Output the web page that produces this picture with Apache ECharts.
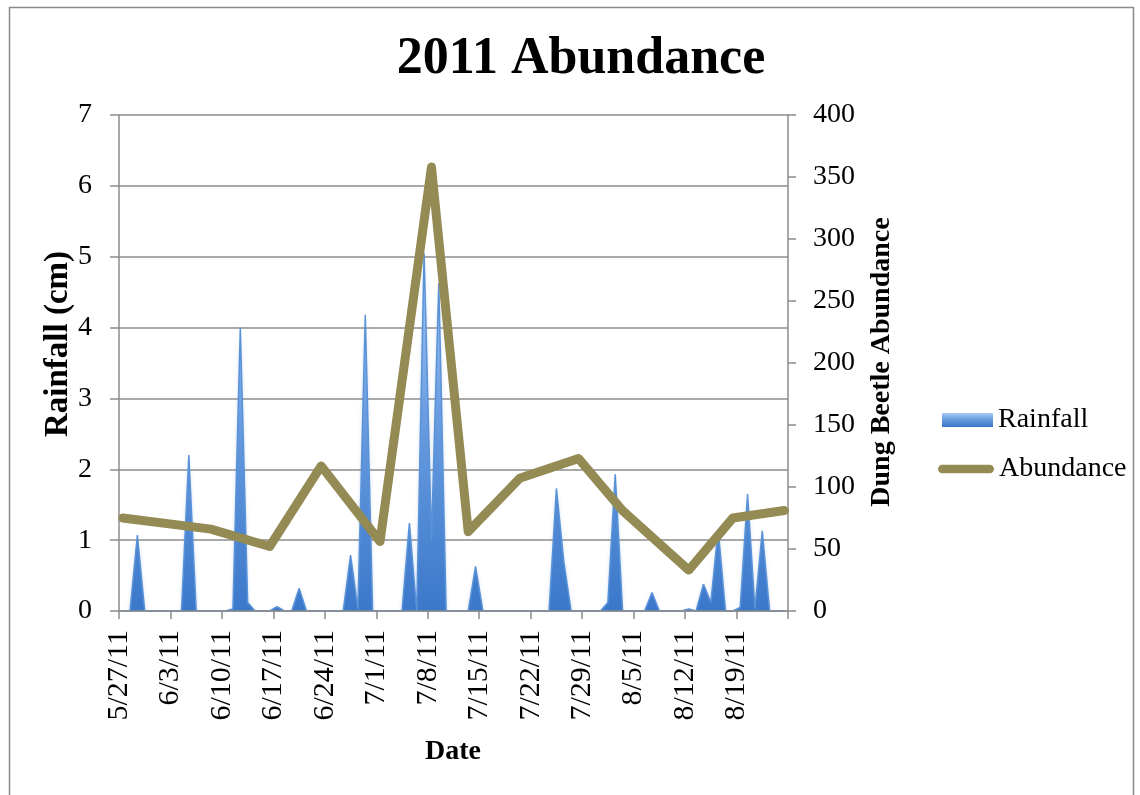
<!DOCTYPE html>
<html>
<head>
<meta charset="utf-8">
<title>2011 Abundance</title>
<script src="https://cdn.jsdelivr.net/npm/echarts@6/dist/echarts.min.js"></script>
<style>
  html, body { margin: 0; padding: 0; background: #ffffff; }
  #chart { width: 1140px; height: 795px; }
</style>
</head>
<body>
<div id="chart"></div>
<script>
// Daily sampling dates (one slot per day on the date axis)
const dates = [
  '5/27/11','5/28/11','5/29/11','5/30/11','5/31/11',
  '6/1/11','6/2/11','6/3/11','6/4/11','6/5/11','6/6/11','6/7/11','6/8/11','6/9/11','6/10/11',
  '6/11/11','6/12/11','6/13/11','6/14/11','6/15/11','6/16/11','6/17/11','6/18/11','6/19/11','6/20/11',
  '6/21/11','6/22/11','6/23/11','6/24/11','6/25/11','6/26/11','6/27/11','6/28/11','6/29/11','6/30/11',
  '7/1/11','7/2/11','7/3/11','7/4/11','7/5/11','7/6/11','7/7/11','7/8/11','7/9/11','7/10/11',
  '7/11/11','7/12/11','7/13/11','7/14/11','7/15/11','7/16/11','7/17/11','7/18/11','7/19/11','7/20/11',
  '7/21/11','7/22/11','7/23/11','7/24/11','7/25/11','7/26/11','7/27/11','7/28/11','7/29/11','7/30/11','7/31/11',
  '8/1/11','8/2/11','8/3/11','8/4/11','8/5/11','8/6/11','8/7/11','8/8/11','8/9/11','8/10/11',
  '8/11/11','8/12/11','8/13/11','8/14/11','8/15/11','8/16/11','8/17/11','8/18/11','8/19/11','8/20/11',
  '8/21/11','8/22/11','8/23/11','8/24/11','8/25/11'
];

// Daily rainfall (cm), one value per date above
const rainfall = [
  0, 0, 1.07, 0, 0,
  0, 0, 0, 0, 2.2, 0, 0, 0, 0, 0,
  0.03, 4.0, 0.12, 0, 0, 0, 0.06, 0, 0, 0.32,
  0, 0, 0, 0, 0, 0, 0.79, 0.03, 4.18, 0,
  0, 0, 0, 0, 1.24, 0, 5.05, 1.0, 4.63, 0,
  0, 0, 0, 0.63, 0, 0, 0, 0, 0, 0,
  0, 0, 0, 0, 1.73, 0.7, 0, 0, 0, 0, 0,
  0.12, 1.93, 0, 0, 0, 0, 0.26, 0, 0, 0,
  0, 0.03, 0, 0.38, 0.12, 1.15, 0, 0, 0.05, 1.65,
  0.03, 1.13, 0, 0, 0
];

// Dung beetle trap counts on collection dates
const abundanceDates = ['5/27/11','6/8/11','6/16/11','6/23/11','7/1/11','7/8/11','7/13/11',
                        '7/20/11','7/28/11','8/3/11','8/12/11','8/18/11','8/25/11'];
const abundanceValues = [75, 66, 52, 117, 56, 358, 64, 107, 123, 81, 33, 75, 81];

const serif = 'Liberation Serif';
const axisGrey = '#8c8c8c';

const rainFill = () => new echarts.graphic.LinearGradient(0, 0, 0, 1, [
  { offset: 0, color: '#a9cbf6' },
  { offset: 0.45, color: '#6a9de0' },
  { offset: 1, color: '#3b78ca' }
]);

// Each value sits in the middle of its day slot
const slot = i => i + 0.5;
const rainData = rainfall.map((v, i) => [slot(i), v]);
const abundanceData = abundanceDates.map((d, k) => [slot(dates.indexOf(d)), abundanceValues[k]]);

const chart = echarts.init(document.getElementById('chart'), null, { renderer: 'canvas' });

chart.setOption({
  animation: false,
  backgroundColor: '#ffffff',
  title: {
    text: '2011 Abundance',
    left: 581,
    top: 60,
    textAlign: 'center',
    textVerticalAlign: 'middle',
    padding: 0,
    textStyle: { fontFamily: serif, fontWeight: 'bold', fontSize: 52, color: '#000' }
  },
  grid: { left: 119, right: 352, top: 115, bottom: 184, containLabel: false },
  legend: [
    {
      data: [{ name: 'Rainfall', icon: 'rect', itemStyle: { color: rainFill(), borderWidth: 0 } }],
      left: 942, top: 406, orient: 'vertical', padding: 0,
      itemWidth: 51, itemHeight: 14, selectedMode: false,
      textStyle: { fontFamily: serif, fontSize: 28, color: '#000', lineHeight: 14 }
    },
    {
      data: [{
        name: 'Abundance',
        icon: 'path://M4.5,0L53.5,0A4.5,4.5,0,0,1,53.5,9L4.5,9A4.5,4.5,0,0,1,4.5,0Z',
        itemStyle: { color: '#948a54', borderWidth: 0 }
      }],
      left: 938, top: 455, orient: 'vertical', padding: 0,
      itemWidth: 56, itemHeight: 9, selectedMode: false,
      textStyle: { fontFamily: serif, fontSize: 28, color: '#000', lineHeight: 9 }
    }
  ],
  xAxis: {
    type: 'value',
    min: 0,
    max: dates.length,
    interval: 7,
    z: 10,
    axisLine: { show: true, onZero: false, lineStyle: { color: axisGrey, width: 1.5 } },
    axisTick: { show: true, inside: false, length: 8, lineStyle: { color: axisGrey, width: 1.5 } },
    splitLine: { show: false },
    axisLabel: {
      rotate: 90,
      margin: 19,
      fontFamily: serif,
      fontSize: 30,
      color: '#000',
      formatter: v => (v < dates.length ? dates[v] : '')
    }
  },
  yAxis: [
    {
      type: 'value',
      position: 'left',
      min: 0, max: 7, interval: 1,
      axisLine: { show: true, lineStyle: { color: axisGrey, width: 1.5 } },
      axisTick: { show: true, inside: false, length: 9, lineStyle: { color: axisGrey, width: 1.5 } },
      splitLine: { show: true, lineStyle: { color: axisGrey, width: 1.5 } },
      axisLabel: { margin: 27, fontFamily: serif, fontSize: 28, color: '#000' }
    },
    {
      type: 'value',
      position: 'right',
      min: 0, max: 400, interval: 50,
      axisLine: { show: true, lineStyle: { color: axisGrey, width: 1.5 } },
      axisTick: { show: true, inside: false, length: 8, lineStyle: { color: axisGrey, width: 1.5 } },
      splitLine: { show: false },
      axisLabel: { margin: 25, fontFamily: serif, fontSize: 28, color: '#000' }
    }
  ],
  series: [
    {
      name: 'Rainfall',
      type: 'line',
      yAxisIndex: 0,
      data: rainData,
      symbol: 'none',
      showSymbol: false,
      silent: true,
      lineStyle: { width: 1.5, color: '#5a92d8' },
      itemStyle: { color: rainFill() },
      areaStyle: {
        color: rainFill(),
        opacity: 1,
        shadowColor: 'rgba(70,130,210,0.35)',
        shadowBlur: 4,
        shadowOffsetY: 2
      },
      z: 2
    },
    {
      name: 'Abundance',
      type: 'line',
      yAxisIndex: 1,
      data: abundanceData,
      symbol: 'none',
      showSymbol: false,
      silent: true,
      lineStyle: { color: '#948a54', width: 9, cap: 'round', join: 'round' },
      itemStyle: { color: '#948a54' },
      z: 3
    }
  ],
  graphic: [
    {
      type: 'rect',
      left: 7, top: 5,
      shape: { width: 1124, height: 810 },
      style: { fill: 'none', stroke: '#8a8a8a', lineWidth: 1.5 },
      silent: true, z: -1
    },
    {
      type: 'text',
      x: 58, y: 344,
      rotation: Math.PI / 2,
      style: { text: 'Rainfall (cm)', fontFamily: serif, fontWeight: 'bold', fontSize: 33,
               fill: '#000', align: 'center', verticalAlign: 'middle' }
    },
    {
      type: 'text',
      x: 882, y: 362,
      rotation: Math.PI / 2,
      style: { text: 'Dung Beetle Abundance', fontFamily: serif, fontWeight: 'bold', fontSize: 28,
               fill: '#000', align: 'center', verticalAlign: 'middle' }
    },
    {
      type: 'text',
      x: 453, y: 752,
      style: { text: 'Date', fontFamily: serif, fontWeight: 'bold', fontSize: 28,
               fill: '#000', align: 'center', verticalAlign: 'middle' }
    }
  ]
});
</script>
</body>
</html>
